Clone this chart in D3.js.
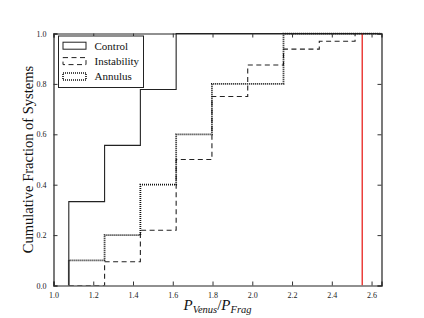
<!DOCTYPE html>
<html>
  <head>
    <meta charset="utf-8">
    <script src="https://d3js.org/d3.v7.min.js"></script>
    <style>
      body { margin: 0; background: #fff; }
      text { font-family: "Liberation Serif", "DejaVu Serif", serif; }
    </style>
  </head>
<body>
  <script type="text/javascript">
    // bin edges (left edges of each step) and cumulative fractions after each edge
    var binEdges = [1.077, 1.257, 1.437, 1.617, 1.797, 1.977, 2.157, 2.337, 2.517];
    var control = [0.333, 0.556, 0.778, 1, 1, 1, 1, 1, 1];
    var instability = [0, 0.094, 0.219, 0.5, 0.75, 0.875, 0.938, 0.969, 1];
    var annulus = [0.1, 0.2, 0.4, 0.6, 0.8, 0.8, 1, 1, 1];
    var seriesNames = ["Control", "Instability", "Annulus"];
    var xTicks = [1.0, 1.2, 1.4, 1.6, 1.8, 2.0, 2.2, 2.4, 2.6];
    var yTicks = [0.0, 0.2, 0.4, 0.6, 0.8, 1.0];
    var venusLine = 2.553;

    var width = 424, height = 318;
    var margin = {left: 53.5, right: 42.5, top: 33.5, bottom: 32.5};
    var w = width - margin.left - margin.right,
        h = height - margin.top - margin.bottom;

    var svg = d3.select("body").append("svg")
        .attr("width", width)
        .attr("height", height);

    var g = svg.append("g")
        .attr("transform", "translate(" + margin.left + "," + margin.top + ")");

    var x = d3.scaleLinear().domain([1.0, 2.65]).range([0, w]);
    var y = d3.scaleLinear().domain([0, 1.0]).range([h, 0]);

    svg.append("defs").append("clipPath").attr("id", "clip")
      .append("rect").attr("x", 0).attr("y", -1).attr("width", w).attr("height", h + 1);

    var styles = [
      {dash: null, width: 1.1, color: "#222"},
      {dash: "5,3.5", width: 1.1, color: "#222"},
      {dash: "1,1", width: 1.8, color: "#111"}
    ];
    var allSeries = [control, instability, annulus];

    var line = d3.line()
        .x(function (d) { return x(d[0]); })
        .y(function (d) { return y(d[1]); })
        .curve(d3.curveStepAfter);

    var plot = g.append("g").attr("clip-path", "url(#clip)");
    allSeries.forEach(function (vals, i) {
      var pts = [[binEdges[0], 0]];
      vals.forEach(function (v, j) { pts.push([binEdges[j], v]); });
      pts.push([2.65, vals[vals.length - 1]]);
      plot.append("path")
        .attr("d", line(pts))
        .attr("fill", "none")
        .attr("stroke", styles[i].color)
        .attr("stroke-width", styles[i].width)
        .attr("stroke-dasharray", styles[i].dash);
    });

    // red reference line
    plot.append("line")
      .attr("x1", x(venusLine)).attr("x2", x(venusLine))
      .attr("y1", 0).attr("y2", h)
      .attr("stroke", "#e8231f")
      .attr("stroke-width", 1.3);

    // axes (matplotlib style: ticks inward on all sides)
    var xAxis = g.append("g").attr("transform", "translate(0," + h + ")")
      .call(d3.axisBottom(x).tickValues(xTicks).tickSize(-4).tickPadding(7)
        .tickFormat(d3.format(".1f")));
    var yAxis = g.append("g")
      .call(d3.axisLeft(y).tickValues(yTicks).tickSize(-4).tickPadding(7)
        .tickFormat(d3.format(".1f")));
    g.append("g").call(d3.axisTop(x).tickValues(xTicks).tickSize(-4).tickFormat(""));
    g.append("g").attr("transform", "translate(" + w + ",0)")
      .call(d3.axisRight(y).tickValues(yTicks).tickSize(-4).tickFormat(""));

    g.selectAll(".domain").attr("stroke", "#222").attr("stroke-width", 1.2);
    g.selectAll(".tick line").attr("stroke", "#333");
    g.selectAll(".tick text")
      .style("font-family", "'Liberation Serif', serif")
      .style("font-size", "8px")
      .attr("fill", "#222");

    // legend
    var legend = g.append("g").attr("transform", "translate(" + (58.5 - margin.left) + "," + (36 - margin.top) + ")");
    legend.append("rect")
      .attr("width", 85).attr("height", 51.5)
      .attr("fill", "#fff").attr("stroke", "#222").attr("stroke-width", 1);
    seriesNames.forEach(function (name, i) {
      var cy = 9.7 + i * 15.4;
      legend.append("rect")
        .attr("x", 4.5).attr("y", cy - 3.5)
        .attr("width", 23).attr("height", 7)
        .attr("fill", "none")
        .attr("stroke", styles[i].color)
        .attr("stroke-width", i === 2 ? 1.6 : 1)
        .attr("stroke-dasharray", styles[i].dash);
      legend.append("text")
        .attr("x", 36).attr("y", cy + 3.8)
        .style("font-size", "11px")
        .attr("fill", "#111")
        .text(name);
    });

    // axis labels
    svg.append("text")
      .attr("transform", "translate(33," + (margin.top + h / 2) + ") rotate(-90)")
      .attr("text-anchor", "middle")
      .style("font-size", "14.5px")
      .attr("fill", "#111")
      .text("Cumulative Fraction of Systems");

    var xl = svg.append("text")
      .attr("x", margin.left + w / 2)
      .attr("y", 310)
      .attr("text-anchor", "middle")
      .attr("fill", "#111")
      .style("font-style", "italic")
      .style("font-size", "15px");
    xl.append("tspan").text("P");
    xl.append("tspan").attr("dy", 3).style("font-size", "10.5px").text("Venus");
    xl.append("tspan").attr("dy", -3).style("font-style", "normal").text("/");
    xl.append("tspan").text("P");
    xl.append("tspan").attr("dy", 3).style("font-size", "10.5px").text("Frag");
  </script>
</body>
</html>
